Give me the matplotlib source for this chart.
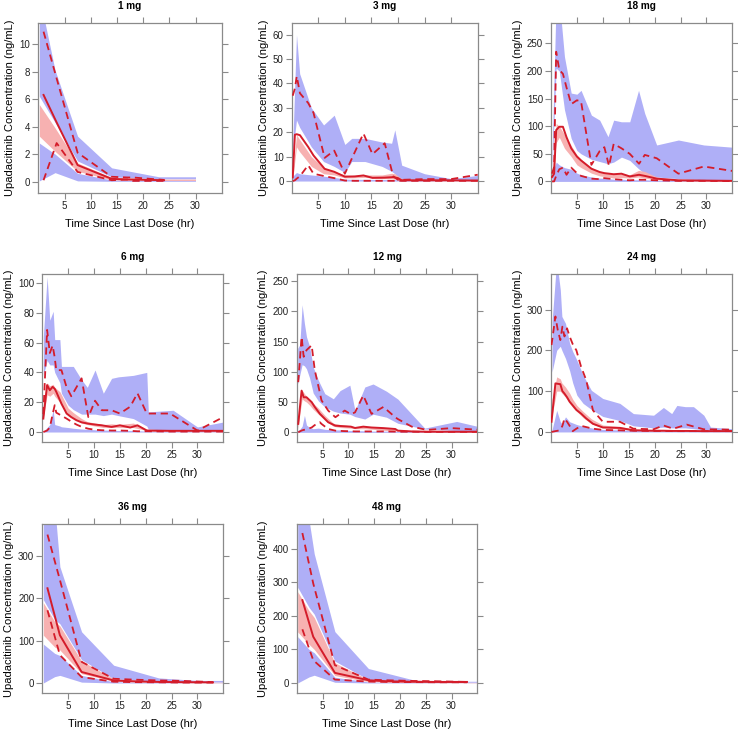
import matplotlib
matplotlib.use("Agg")
import matplotlib.pyplot as plt

# ---------------- data ----------------
doses = ["1 mg", "3 mg", "18 mg", "6 mg", "12 mg", "24 mg", "36 mg", "48 mg"]

# band time grids (bin midpoints) per panel
band_t = [
    [0.2, 3.2, 7.5, 14, 23, 30],
    [0.2, 0.9, 1.5, 3.7, 6, 8, 10, 11.3, 13.8, 17, 18.8, 19.4, 20.7, 25, 30, 35],
    [0.2, 1.0, 1.6, 2.6, 3.9, 5.0, 5.8, 7.8, 9.4, 11.0, 12.1, 13.6, 15.2, 16.9, 18.1, 20.4, 24.6, 29.5, 35],
    [0.2, 0.93, 1.45, 2.1, 2.4, 3.4, 3.7, 5.0, 6.0, 7.6, 8.7, 10.2, 11.8, 13.4, 14.7, 17.6, 20.2, 20.5, 25.3, 30, 35],
    [0.2, 0.6, 1.05, 1.5, 1.9, 2.5, 3.2, 4.2, 5.45, 7.1, 8.4, 10.3, 11.3, 13.2, 14.8, 17.4, 19.6, 24.8, 31, 35],
    [0.2, 1.1, 1.8, 2.1, 2.8, 3.6, 4.2, 5.0, 6.2, 7.8, 10, 13.3, 15.9, 19.8, 21.7, 23.3, 24.3, 25.9, 27.5, 29.5, 30.8, 35],
    [0.2, 2.4, 3.4, 7.6, 13.8, 22.5, 30, 35],
    [0.2, 2.4, 3.4, 7.4, 13.9, 22.9, 30, 35],
]
# simulated 95th percentile CI (upper blue band)
p95ci_hi = [
    [13.5, 8.1, 3.3, 1.0, 0.35, 0.35],
    [15, 60, 44, 30, 23, 27, 15, 17.5, 17.5, 16, 15.5, 21, 6.5, 3, 1, 2.3],
    [50, 330, 330, 226, 160, 158, 165, 120, 111, 81, 111, 108, 108, 165, 123, 66, 75, 66, 62],
    [64, 104, 75, 81, 62, 62, 44, 44, 44, 35, 30, 41.6, 26, 36, 37, 38, 40, 13.5, 14.6, 3.4, 6.7],
    [139, 145, 211, 180, 158, 142, 108, 86, 64, 55.5, 69, 78, 36, 75, 80, 68, 55, 7, 18, 10],
    [270, 420, 348, 283, 266, 217, 197, 176, 139, 102, 82, 70, 45, 41, 60, 45, 65, 62, 62, 41, 12, 8],
    [480, 420, 275, 121, 42, 12, 6, 6],
    [560, 485, 385, 153, 43, 8, 5, 5],
]
p95ci_lo = [
    [6.2, 4.3, 1.5, 0.35, 0.2, 0.2],
    [12, 25, 22, 14, 8, 6, 3.5, 8, 8, 6, 4, 3, 0.5, 0.3, 0.2, 0.2],
    [20, 205, 200, 130, 78, 56, 50, 40, 36, 32, 35, 44, 38, 23, 14, 8, 5, 3, 2],
    [38, 48, 45, 45, 40, 33, 26, 18, 15, 12, 12, 12, 11, 12, 11, 9, 4, 2, 1, 0.5, 0.5],
    [80, 95, 112, 110, 105, 90, 65, 52, 42, 35, 32, 30, 26, 22, 30, 25, 15, 5.5, 3, 2],
    [147, 200, 210, 200, 180, 150, 120, 90, 70, 55, 38, 28, 15, 10, 12, 10, 10, 10, 8, 5, 3, 2],
    [197, 150, 140, 55, 10, 3, 2, 2],
    [285, 225, 205, 65, 10, 3, 2, 2],
]
# simulated median CI (red band)
p50ci_lo = [
    [3.3, 2.2, 0.75, 0.12, 0.08, 0.08],
    [1, 14, 12, 6, 3, 2.5, 1.3, 1.3, 1.5, 1, 1, 0.8, 0.3, 0.2, 0.1, 0.1],
    [5, 70, 80, 60, 45, 30, 25, 15, 10, 8, 6, 7, 6, 8, 6, 3, 1, 0.5, 0.5],
    [10, 25, 24, 26, 24, 20, 18, 11, 9, 6, 5, 4, 3, 3, 3, 3, 1, 0.5, 0.3, 0.2, 0.2],
    [5, 30, 55, 52, 50, 45, 38, 30, 20, 10, 8, 7, 6, 6, 5, 3, 2, 1, 0.5, 0.5],
    [40, 100, 100, 95, 85, 70, 60, 50, 35, 20, 10, 7, 4, 2, 2, 1.5, 1.5, 1.5, 1.2, 1, 1, 1],
    [113, 85, 78, 22, 4, 1, 0.5, 0.5],
    [152, 115, 100, 22, 4, 1, 0.5, 0.5],
]
p50ci_hi = [
    [5.6, 3.9, 1.35, 0.3, 0.18, 0.18],
    [3, 19, 17, 10, 5.5, 4, 2.5, 2.3, 2.5, 2.5, 3.2, 3, 1, 0.5, 0.4, 0.4],
    [15, 105, 100, 85, 65, 48, 40, 25, 18, 15, 13, 14, 12, 20, 18, 8, 3, 2, 2],
    [21, 33, 31, 32, 30, 27, 25, 16, 13, 9, 7, 6, 5, 5.5, 5, 6, 2, 1.5, 1, 0.5, 0.5],
    [20, 45, 70, 64, 60, 55, 48, 40, 28, 15, 13, 11, 9, 10, 8, 7, 4, 2, 1, 1],
    [80, 135, 130, 120, 110, 95, 80, 65, 50, 32, 17, 13, 8, 5, 4.5, 4, 4, 4, 3.5, 3, 3, 3],
    [190, 145, 135, 52, 10, 3, 1.5, 1.5],
    [272, 215, 195, 60, 10, 3, 1.5, 1.5],
]
# simulated 5th percentile CI (lower blue band)
p05ci_lo = [
    [0.05, 0.65, 0.05, 0.02, 0.02, 0.02],
    [0] * 16,
    [0] * 19,
    [0] * 21,
    [0] * 20,
    [0] * 22,
    [0, 15, 18, 2, 0, 0, 0, 0],
    [0, 18, 23, 2, 0, 0, 0, 0],
]
p05ci_hi = [
    [2.8, 2.0, 0.6, 0.12, 0.08, 0.08],
    [2, 3.5, 3, 2.5, 2, 1.5, 0.8, 0.7, 0.7, 0.6, 0.6, 0.6, 0.3, 0.2, 0.1, 0.1],
    [12, 35, 30, 25, 22, 15, 12, 8, 6, 5, 4, 4, 3, 3, 3, 2, 1.5, 1, 1],
    [0.5, 3, 5, 15, 5, 4, 3.5, 3, 2.5, 2, 1.8, 1.5, 1.3, 1.2, 1, 1, 0.6, 0.5, 0.4, 0.3, 0.3],
    [3, 5, 10, 28, 12, 8, 6, 7, 5, 4, 4, 3, 3, 2.5, 2, 2, 1.5, 1, 1, 1],
    [5, 53, 25, 20, 37, 25, 22, 18, 14, 10, 6, 5, 4, 3, 3, 3, 3, 3, 2, 2, 2, 2],
    [92, 70, 65, 18, 3, 1, 0.5, 0.5],
    [138, 100, 90, 17, 3, 1, 0.5, 0.5],
]

# observed percentiles
obs_t = [
    [1, 3.5, 7.5, 14, 17, 18, 24],
    [0.2, 0.6, 0.95, 1.55, 3.1, 4.1, 6.2, 8, 10, 11.9, 13.5, 15.2, 17.5, 19.1, 20, 20.7, 25, 30, 35],
    [0.2, 0.6, 1.0, 1.6, 2.3, 3.0, 3.9, 5.0, 5.8, 7.8, 9.4, 10.3, 11.2, 12.1, 13.6, 15.2, 17.0, 18.1, 20.4, 24.6, 29.5, 35],
    [0.2, 0.93, 1.45, 2.0, 2.4, 2.7, 3.7, 4.7, 5.6, 6.6, 7.6, 8.9, 10.2, 11.5, 13.4, 15.0, 17.0, 18.4, 20.2, 24.7, 30, 35],
    [0.3, 0.95, 1.35, 1.9, 2.9, 3.5, 4.5, 4.8, 6.1, 7.5, 9.3, 10.5, 11.3, 12.9, 14.5, 16.8, 19.1, 19.6, 22.3, 25.2, 30, 35],
    [0.1, 0.85, 1.3, 1.8, 2.2, 2.6, 3.1, 3.6, 4.2, 4.9, 5.8, 6.8, 8.1, 10, 13.3, 15.9, 19.8, 21.7, 23.6, 26.2, 29.5, 35],
    [1.0, 3.4, 7.6, 13.8, 17.5, 22.5, 27, 33],
    [1.1, 3.2, 7.4, 13.9, 17.5, 22.5, 27, 33],
]
obs_p95 = [
    [10.9, 7.5, 2.1, 0.35, 0.3, 0.3, 0.12],
    [35, 38, 43, 36, 32, 28, 9.5, 12.5, 3, 12, 19.5, 11, 15.5, 2, 0.5, 0.5, 0.8, 0.8, 2.6],
    [14, 26, 235, 202, 195, 170, 140, 147, 145, 30, 55, 62, 28, 68, 60, 50, 32, 48, 42, 14, 27, 19],
    [12, 68.5, 53, 58, 50, 41.5, 41.5, 30, 24, 30, 36, 10, 21, 14.6, 14.6, 12.4, 17, 26, 12.4, 12.4, 1, 10],
    [83, 158, 125, 136, 144, 103, 65, 53, 36, 25, 36, 30, 33, 61, 30.5, 42, 25, 22, 9.4, 4, 7, 4.4],
    [213, 283, 250, 225, 258, 234, 254, 234, 215, 200, 160, 127, 53, 25, 25, 8, 6.5, 16, 8, 18, 6.5, 5.7],
    [351, 244, 50, 10, 8, 6, 5, 2],
    [447, 297, 53, 10, 8, 6, 5, 3],
]
obs_p50 = [
    [6.3, 4.3, 1.2, 0.2, 0.15, 0.15, 0.1],
    [1.5, 19, 19.2, 18.8, 14, 10.5, 5, 3.8, 1.8, 1.9, 2.3, 1.3, 1.4, 1.6, 1.2, 0.3, 0.3, 0.3, 0.2],
    [8, 14, 93, 99, 99, 80, 60, 45, 38, 23, 17, 15, 14, 13, 14, 9, 12, 10, 5, 2, 1.5, 1],
    [9, 31.5, 28, 30.3, 29, 27, 19, 12.4, 10, 7.9, 6.5, 5.6, 5, 4.5, 3.4, 4.5, 3, 4.5, 1, 0.8, 0.8, 0.8],
    [14, 69, 58, 58, 50, 42, 30.5, 28, 16.7, 11, 10, 9.4, 7.2, 9.4, 8, 7, 5.5, 2.8, 1.5, 1, 1, 1],
    [25, 119, 118, 117, 100, 94, 85, 74, 65, 54, 45, 33, 20, 11, 10, 4, 3, 3, 2.5, 2.5, 2, 2],
    [224, 113, 26, 6, 4, 2.5, 2, 1.5],
    [247, 138, 30, 8, 5, 3.5, 3, 3],
]
obs_p05 = [
    [0.1, 2.8, 0.7, 0.1, 0.15, 0.05, 0.05],
    [0, 0.3, 1, 2, 6.5, 3, 2, 1.2, 0.2, 0.1, 0.1, 0.1, 0.1, 0.1, 0.1, 0.1, 0.1, 0.1, 0.1],
    [0, 0, 10, 22, 25, 12, 25, 15, 10, 5, 4, 6, 5, 4, 3, 2, 3, 3, 2, 1, 1, 0.5],
    [0, 1, 3, 12, 18, 13, 11, 9, 7, 5, 3.5, 2.2, 1.5, 1.2, 1, 1, 0.8, 0.5, 0.5, 0.3, 0.3, 0.3],
    [0, 3, 4, 5, 8, 12, 16.7, 14, 5.5, 2.8, 2, 1.8, 1.5, 1.5, 1.5, 1.5, 1.2, 1, 1, 0.8, 0.8, 0.8],
    [0, 2, 3, 5, 15, 33, 25, 15, 2, 8, 15, 12, 8, 5, 4, 3, 2.5, 2.5, 2, 2, 2, 2],
    [172, 66, 14, 3, 2, 1.5, 1, 1],
    [160, 68, 10, 4, 3, 2.5, 2, 2],
]

# axis settings per panel
y_limits = [(-0.83, 11.53), (-4.9, 64.8), (-21, 287), (-6.7, 106), (-16, 262),
            (-24.6, 387), (-23.7, 376), (-30, 474)]
y_ticks = [[0, 2, 4, 6, 8, 10], [0, 10, 20, 30, 40, 50, 60], [0, 50, 100, 150, 200, 250],
           [0, 20, 40, 60, 80, 100], [0, 50, 100, 150, 200, 250], [0, 100, 200, 300],
           [0, 100, 200, 300], [0, 100, 200, 300, 400]]
x_ticks = [5, 10, 15, 20, 25, 30]

# ---------------- layout (pixels: left, right, top, bottom) ----------------
W, H = 738, 730
panel_px = [
    (38.3, 221.7, 23, 193), (291.7, 477.7, 23, 193), (551, 732.3, 23, 193),
    (42.3, 223.3, 274, 442), (296.7, 477.3, 274, 442), (551, 732.3, 274, 442),
    (42.3, 223.3, 524, 693), (296.7, 477.3, 524, 693),
]

BLUE = "#AFAFF7"
PINK = "#F7B1B1"
RED = "#D41C2A"
FRAME = "#8A8A8A"

plt.rcParams["font.family"] = ["Liberation Sans", "DejaVu Sans"]
fig = plt.figure(figsize=(W / 100, H / 100), dpi=100)

for i, name in enumerate(doses):
    l, r, t, b = panel_px[i]
    ax = fig.add_axes([l / W, 1 - b / H, (r - l) / W, (b - t) / H])
    tb = band_t[i]
    ax.fill_between(tb, p95ci_lo[i], p95ci_hi[i], color=BLUE, lw=0, zorder=1)
    ax.fill_between(tb, p05ci_lo[i], p05ci_hi[i], color=BLUE, lw=0, zorder=1)
    ax.fill_between(tb, p50ci_lo[i], p50ci_hi[i], color=PINK, lw=0, zorder=2)
    to = obs_t[i]
    ax.plot(to, obs_p50[i], color=RED, lw=1.4, zorder=4)
    ax.plot(to, obs_p95[i], color=RED, lw=1.3, dashes=(4, 2.6), zorder=4)
    ax.plot(to, obs_p05[i], color=RED, lw=1.3, dashes=(4, 2.6), zorder=4)

    ax.set_xlim(0, 35)
    ax.set_ylim(*y_limits[i])
    ax.set_xticks(x_ticks)
    ax.set_yticks(y_ticks[i])
    ax.tick_params(axis="both", which="both", direction="out", length=4, width=0.8,
                   color=FRAME, labelsize=7, pad=1.8, labelcolor="#222222",
                   top=True, right=True, labeltop=False, labelright=False)
    for s in ax.spines.values():
        s.set_color(FRAME)
        s.set_linewidth(0.9)
    ax.set_title(name, fontsize=7.2, fontweight="bold", pad=10)
    ax.set_xlabel("Time Since Last Dose (hr)", fontsize=8, labelpad=6)
    ax.set_ylabel("Upadacitinib Concentration (ng/mL)", fontsize=8, labelpad=3)

fig.savefig("out.png", dpi=100)
